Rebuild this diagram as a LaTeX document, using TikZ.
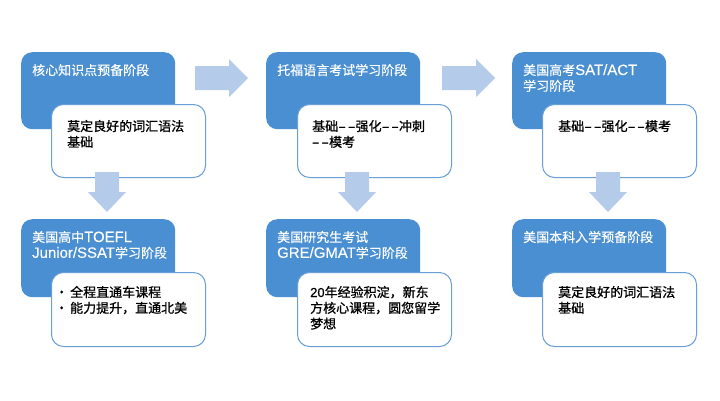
\documentclass[tikz,border=0pt]{standalone}
\usepackage{fontspec}
\setmainfont{Noto Sans CJK SC}
\newfontfamily\titlefont[FakeBold=0.3]{Noto Sans CJK SC}
\newfontfamily\bodyfont[FakeBold=0.9]{Noto Sans CJK SC}
\newfontfamily\lattitle[FakeBold=0.3, Scale=1.15]{Liberation Sans}
\newfontfamily\latbody[FakeBold=0.9]{Liberation Sans}
\definecolor{boxblue}{HTML}{4A8FD1}
\definecolor{arrowblue}{HTML}{B4CBE9}
\definecolor{edgeblue}{HTML}{6A9ED8}
\newcommand{\dashpair}{\kern0.5bp–\kern2.5bp–\kern0.5bp}
\newcommand{\lt}[1]{{\lattitle #1}}
\newcommand{\lb}[1]{{\latbody #1}}
\tikzset{
  bluebox/.style={fill=boxblue, draw=none, rounded corners=11bp, minimum width=154bp, minimum height=77bp, anchor=north west, inner sep=0},
  whitebox/.style={fill=white, draw=edgeblue, line width=1bp, rounded corners=12bp, minimum width=154bp, minimum height=73bp, anchor=north west, inner sep=0},
  titletext/.style={text=white, anchor=base west, inner sep=0, font=\titlefont\fontsize{13bp}{15.8bp}\selectfont},
  bodytext/.style={text=black, anchor=base west, inner sep=0, font=\bodyfont\fontsize{13bp}{15.8bp}\selectfont},
  rarrow/.pic={\fill[arrowblue] (0,-12) -- (34,-12) -- (34,-19) -- (53,0) -- (34,19) -- (34,12) -- (0,12) -- cycle;},
  darrow/.pic={\fill[arrowblue] (-12,0) -- (-12,20) -- (-19,20) -- (0,40) -- (19,20) -- (12,20) -- (12,0) -- cycle;}
}
\begin{document}
\begin{tikzpicture}[x=1bp, y=-1bp]
\useasboundingbox[fill=white] (0,0) rectangle (720,400);
% top row
\node[bluebox] (b1) at (21,52) {};
\node[bluebox] (b2) at (266,52) {};
\node[bluebox] (b3) at (512,52) {};
\node[whitebox] (w1) at (51,104) {};
\node[whitebox] (w2) at (297,104) {};
\node[whitebox] (w3) at (542,104) {};
% bottom row
\node[bluebox, minimum height=78bp] (b4) at (21,219) {};
\node[bluebox, minimum height=78bp] (b5) at (266,219) {};
\node[bluebox, minimum height=78bp] (b6) at (512,219) {};
\node[whitebox, minimum height=74bp] (w4) at (51,272) {};
\node[whitebox, minimum height=74bp] (w5) at (297,272) {};
\node[whitebox, minimum height=74bp] (w6) at (542,272) {};
% titles
\node[titletext] (t1) at (32,75) {\parbox[t]{150bp}{核心知识点预备阶段}};
\node[titletext] (t2) at (277,75) {\parbox[t]{150bp}{托福语言考试学习阶段}};
\node[titletext] (t3) at (523,75) {\parbox[t]{150bp}{美国高考\lt{SAT/ACT}\\学习阶段}};
\node[titletext] (t4) at (32,242) {\parbox[t]{150bp}{美国高中\lt{TOEFL}\\\lt{Junior/SSAT}学习阶段}};
\node[titletext] (t5) at (277,242) {\parbox[t]{150bp}{美国研究生考试\\\lt{GRE/GMAT}学习阶段}};
\node[titletext] (t6) at (523,242) {\parbox[t]{150bp}{美国本科入学预备阶段}};
% body texts
\node[bodytext] (x1) at (67,131) {\parbox[t]{140bp}{莫定良好的词汇语法\\基础}};
\node[bodytext] (x2) at (312,131) {\parbox[t]{140bp}{基础\dashpair 强化\dashpair 冲刺\\\dashpair 模考}};
\node[bodytext] (x3) at (558,131) {\parbox[t]{140bp}{基础\dashpair 强化\dashpair 模考}};
\node[bodytext] (x4) at (55,297) {\parbox[t]{140bp}{·\kern2bp 全程直通车课程\\·\kern2bp 能力提升，直通北美}};
\node[bodytext] (x5) at (310,297) {\parbox[t]{140bp}{\lb{20}年经验积淀，新东\\方核心课程，圆您留学\\梦想}};
\node[bodytext] (x6) at (558,297) {\parbox[t]{140bp}{莫定良好的词汇语法\\基础}};
% arrows
\coordinate (r1) at (195,78);
\coordinate (r2) at (442,78);
\coordinate (d1) at (107,172);
\coordinate (d2) at (357,172);
\coordinate (d3) at (608,172);
\pic at (r1) {rarrow};
\pic at (r2) {rarrow};
\pic at (d1) {darrow};
\pic at (d2) {darrow};
\pic at (d3) {darrow};
\end{tikzpicture}
\end{document}
